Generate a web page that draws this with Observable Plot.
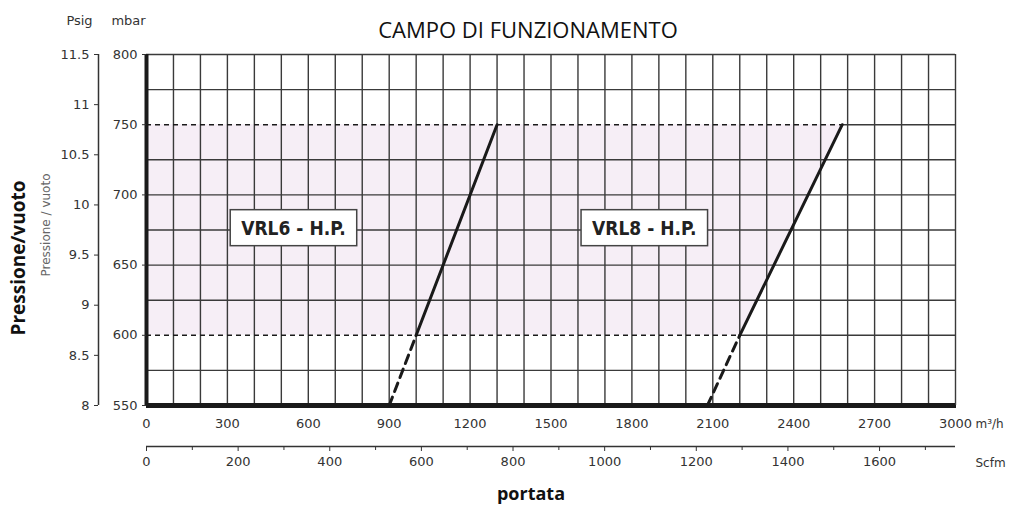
<!DOCTYPE html>
<html>
<head>
<meta charset="utf-8">
<script src="https://cdn.jsdelivr.net/npm/d3@7"></script>
<script src="https://cdn.jsdelivr.net/npm/@observablehq/plot@0.6"></script>
<style>
  html, body { margin: 0; padding: 0; background: #fff; }
</style>
</head>
<body>
<div id="chart"></div>
<script>
// ---- data ----
const title = "CAMPO DI FUNZIONAMENTO";
const flowTicks = [0, 300, 600, 900, 1200, 1500, 1800, 2100, 2400, 2700, 3000];      // m³/h
const scfmTicks = [0, 200, 400, 600, 800, 1000, 1200, 1400, 1600];                   // labelled Scfm
const scfmMinor = [100, 300, 500, 700, 900, 1100, 1300, 1500, 1700];                  // unlabelled Scfm
const mbarTicks = [550, 600, 650, 700, 750, 800];
const psigTicks = [8, 8.5, 9, 9.5, 10, 10.5, 11, 11.5];
const gridFlow = d3.range(100, 3001, 100);
const gridPress = [575, 625, 650, 675, 700, 725, 775, 800];
const limits = [{p: 600, q: 2200}, {p: 750, q: 2580}];     // dashed limit lines end at VRL8 curve
const shade = [{p: 600, q: 2200}, {p: 750, q: 2580}];
const vrl6Solid = [{q: 1000, p: 600}, {q: 1300, p: 750}];
const vrl6Dash  = [{q: 900,  p: 550}, {q: 1000, p: 600}];
const vrl8Solid = [{q: 2200, p: 600}, {q: 2580, p: 750}];
const vrl8Dash  = [{q: 2080, p: 550}, {q: 2200, p: 600}];
const boxLabels = [{name: "VRL6 - H.P.", q: 545, p: 676}, {name: "VRL8 - H.P.", q: 1846, p: 676}];

const SCFM = 1.699;                       // m³/h per scfm
const psiToMbar = v => 550 + (v - 8) * 250 / 3.5;
const mbarToPsi = v => 8 + (v - 550) * 3.5 / 250;

const ink = "#1a1a1a", grid = "#3a3a3a", tickInk = "#333";
const tickFont = "DejaVu Sans";
const mid = {textAnchor: "middle", lineAnchor: "middle"};

const chart = Plot.plot({
  width: 1011, height: 509,
  marginLeft: 146, marginRight: 56, marginTop: 54, marginBottom: 104,
  style: {fontFamily: tickFont, fontSize: "12px", background: "#fff", color: tickInk},
  x: {domain: [0, 3000], axis: null},
  y: {domain: [550, 800], axis: null},
  marks: [
    Plot.areaX(shade, {y: "p", x1: 0, x2: "q", fill: "#f6eef6"}),
    Plot.ruleX(gridFlow, {y1: 550, y2: 800, stroke: grid, strokeWidth: 1.4}),
    Plot.ruleY(gridPress, {x1: 0, x2: 3000, stroke: grid, strokeWidth: 1.4}),
    Plot.ruleY(limits, {y: "p", x1: "q", x2: 3000, stroke: grid, strokeWidth: 1.4}),
    Plot.ruleY(limits, {y: "p", x1: 0, x2: "q", stroke: ink, strokeWidth: 1.4, strokeDasharray: "5,4"}),
    // curves
    Plot.line(vrl6Solid, {x: "q", y: "p", stroke: ink, strokeWidth: 3}),
    Plot.line(vrl6Dash, {x: "q", y: "p", stroke: ink, strokeWidth: 3, strokeDasharray: "9,6"}),
    Plot.line(vrl8Solid, {x: "q", y: "p", stroke: ink, strokeWidth: 3}),
    Plot.line(vrl8Dash, {x: "q", y: "p", stroke: ink, strokeWidth: 3, strokeDasharray: "9,6"}),
    // thick frame axes
    Plot.ruleX([0], {y1: 550, y2: 800, stroke: ink, strokeWidth: 4}),
    Plot.ruleY([550], {x1: 0, x2: 3000, stroke: ink, strokeWidth: 5}),
    // mbar axis
    Plot.axisY(mbarTicks, {anchor: "left", tickSize: 4, tickPadding: 5, fontSize: 13, label: null,
      tickFormat: d3.format("d"), stroke: tickInk, fill: tickInk}),
    // psig axis
    Plot.ruleX([0], {y1: 550, y2: 800, dx: -48, stroke: tickInk, strokeWidth: 1.5}),
    Plot.axisY(psigTicks.map(psiToMbar), {anchor: "left", dx: -48, tickSize: 4, tickPadding: 5, fontSize: 13, label: null,
      tickFormat: v => d3.format("~g")(Math.round(mbarToPsi(v) * 2) / 2), stroke: tickInk, fill: tickInk}),
    Plot.text(["Psig"], {...mid, frameAnchor: "top-left", dx: -67, dy: -34, fontSize: 13, fill: tickInk}),
    Plot.text(["mbar"], {...mid, frameAnchor: "top-left", dx: -18, dy: -34, fontSize: 13, fill: tickInk}),
    // m³/h axis
    Plot.axisX(flowTicks, {anchor: "bottom", tickSize: 3, tickPadding: 10, fontSize: 13, label: null,
      tickFormat: d3.format("d"), stroke: ink, fill: tickInk}),
    Plot.text(["m³/h"], {frameAnchor: "bottom-right", textAnchor: "start", lineAnchor: "middle", dx: 20, dy: 19, fontSize: 12, fill: tickInk}),
    // Scfm axis
    Plot.ruleY([550], {x1: 0, x2: 3000, dy: 41, stroke: tickInk, strokeWidth: 1.5}),
    Plot.axisX(scfmMinor.map(s => s * SCFM), {anchor: "bottom", dy: 41, tickSize: 4, tickFormat: () => "", label: null, stroke: tickInk}),
    Plot.axisX(scfmTicks.map(s => s * SCFM), {anchor: "bottom", dy: 41, tickSize: 5, tickPadding: 5, fontSize: 13, label: null,
      tickFormat: v => String(Math.round(v / SCFM / 100) * 100), stroke: tickInk, fill: tickInk}),
    Plot.text(["Scfm"], {frameAnchor: "bottom-right", textAnchor: "start", lineAnchor: "middle", dx: 20, dy: 58, fontSize: 12, fill: tickInk}),
    // box labels
    Plot.text(boxLabels, {x: "q", y: "p", text: "name", fontSize: 19, fontWeight: "bold",
      fontFamily: "Liberation Sans Narrow, DejaVu Sans Condensed, Liberation Sans", fill: "#222"}),
    // titles
    Plot.text([title], {...mid, frameAnchor: "top", dx: -23, dy: -24, fontSize: 22, fontFamily: "Open Sans", fill: "#111"}),
    Plot.text(["portata"], {...mid, frameAnchor: "bottom", dx: -20, dy: 89, fontSize: 18, fontWeight: "bold", fontFamily: "Open Sans", fill: "#111"}),
    Plot.text(["Pressione/vuoto"], {...mid, frameAnchor: "left", dx: -128, dy: 28, rotate: -90, fontSize: 19, fontWeight: "bold", fontFamily: "Open Sans", fill: "#111"}),
    Plot.text(["Pressione / vuoto"], {...mid, frameAnchor: "left", dx: -100, dy: -5, rotate: -90, fontSize: 12, fill: "#666"})
  ]
});

document.getElementById("chart").appendChild(chart);

// draw white framed boxes behind the model labels, sized from the rendered text
const names = new Set(boxLabels.map(d => d.name));
d3.select(chart).selectAll("text").filter(function() { return names.has(this.textContent); }).each(function() {
  const b = this.getBBox();
  const t = this.getAttribute("transform") || "";
  const padX = 11, padY = 7;
  d3.select(this.parentNode).insert("rect", () => this)
    .attr("x", b.x - padX).attr("y", b.y - padY)
    .attr("width", b.width + 2 * padX).attr("height", b.height + 2 * padY)
    .attr("transform", t)
    .attr("fill", "#fff").attr("stroke", "#444").attr("stroke-width", 1.5);
});
</script>
</body>
</html>
